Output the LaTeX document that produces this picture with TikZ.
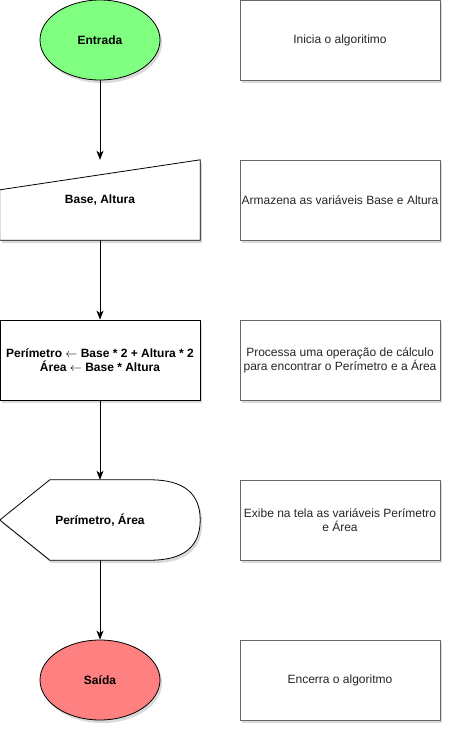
\documentclass[tikz,border=0pt]{standalone}
\usepackage{fontspec}
\setmainfont{Liberation Sans}
\usetikzlibrary{shapes.geometric,arrows.meta,shadows,backgrounds}

\tikzset{
  txt/.style={font=\fontsize{12}{14}\selectfont, align=center, inner sep=0pt},
  soft shadow/.style={drop shadow={shadow xshift=2pt, shadow yshift=-3pt, opacity=0.25, fill=black!60}},
  terminal/.style={txt, font=\fontsize{12}{14}\selectfont\bfseries, ellipse, draw=black, line width=0.8pt,
    minimum width=120pt, minimum height=80pt, soft shadow},
  frame/.style={txt, font=\fontsize{12}{14}\selectfont\bfseries, rectangle, minimum width=200pt, minimum height=80pt},
  shapeline/.style={draw=black, line width=0.8pt, fill=white, soft shadow},
  notebox/.style={txt, rectangle, draw=notecolor, line width=0.8pt, fill=white, text=black!85,
    minimum width=200pt, minimum height=80pt, soft shadow},
  flow/.style={draw=black, line width=0.8pt, -{Stealth[length=9pt, width=7pt, inset=2.5pt]}}
}

\begin{document}
\begin{tikzpicture}[x=1pt, y=-1pt]
    % Define colors
    \definecolor{startcolor}{RGB}{128,255,128} % Green
    \definecolor{endcolor}{RGB}{255,128,128}   % Red
    \definecolor{notecolor}{RGB}{102,102,102}  % Gray

    \useasboundingbox (0,0) rectangle (452,732);

    % Flowchart
    \node[terminal, fill=startcolor] (entrada) at (100,40) {Entrada};
    \node[frame] (leitura) at (100,200) {Base, Altura};
    \node[frame, draw=black, line width=0.8pt, fill=white, soft shadow] (calculo) at (100,360)
        {Perímetro $\leftarrow$ Base * 2 + Altura * 2\\Área $\leftarrow$ Base * Altura};
    \node[frame] (exibe) at (100,520) {Perímetro, Área};
    \node[terminal, fill=endcolor] (saida) at (100,680) {Saída};

    % Outlines of input and display
    \begin{scope}[on background layer]
        \draw[shapeline] (leitura.south west) -- (leitura.south east) -- (leitura.north east)
            -- ([yshift=-30pt]leitura.north west) -- cycle;
        \draw[shapeline] (exibe.west) -- ([xshift=50pt]exibe.north west) -- ([xshift=-50pt]exibe.north east)
            .. controls ([xshift=-16.7pt]exibe.north east) and ([yshift=26.7pt]exibe.east) .. (exibe.east)
            .. controls ([yshift=-26.7pt]exibe.east) and ([xshift=-16.7pt]exibe.south east) .. ([xshift=-50pt]exibe.south east)
            -- ([xshift=50pt]exibe.south west) -- cycle;
    \end{scope}

    % Arrows
    \draw[flow] (entrada) -- (leitura);
    \draw[flow] (leitura) -- (calculo);
    \draw[flow] (calculo) -- (exibe);
    \draw[flow] (exibe) -- (saida);

    % Notes
    \foreach \i/\y/\lbl in {1/40/{Inicia o algoritimo},
                            2/200/{Armazena as variáveis Base e Altura},
                            3/360/{Processa uma operação de cálculo\\para encontrar o Perímetro e a Área},
                            4/520/{Exibe na tela as variáveis Perímetro\\e Área},
                            5/680/{Encerra o algoritmo}}
        {
        \node[notebox] (nota\i) at (340,\y) {\lbl};
    }
\end{tikzpicture}
\end{document}
